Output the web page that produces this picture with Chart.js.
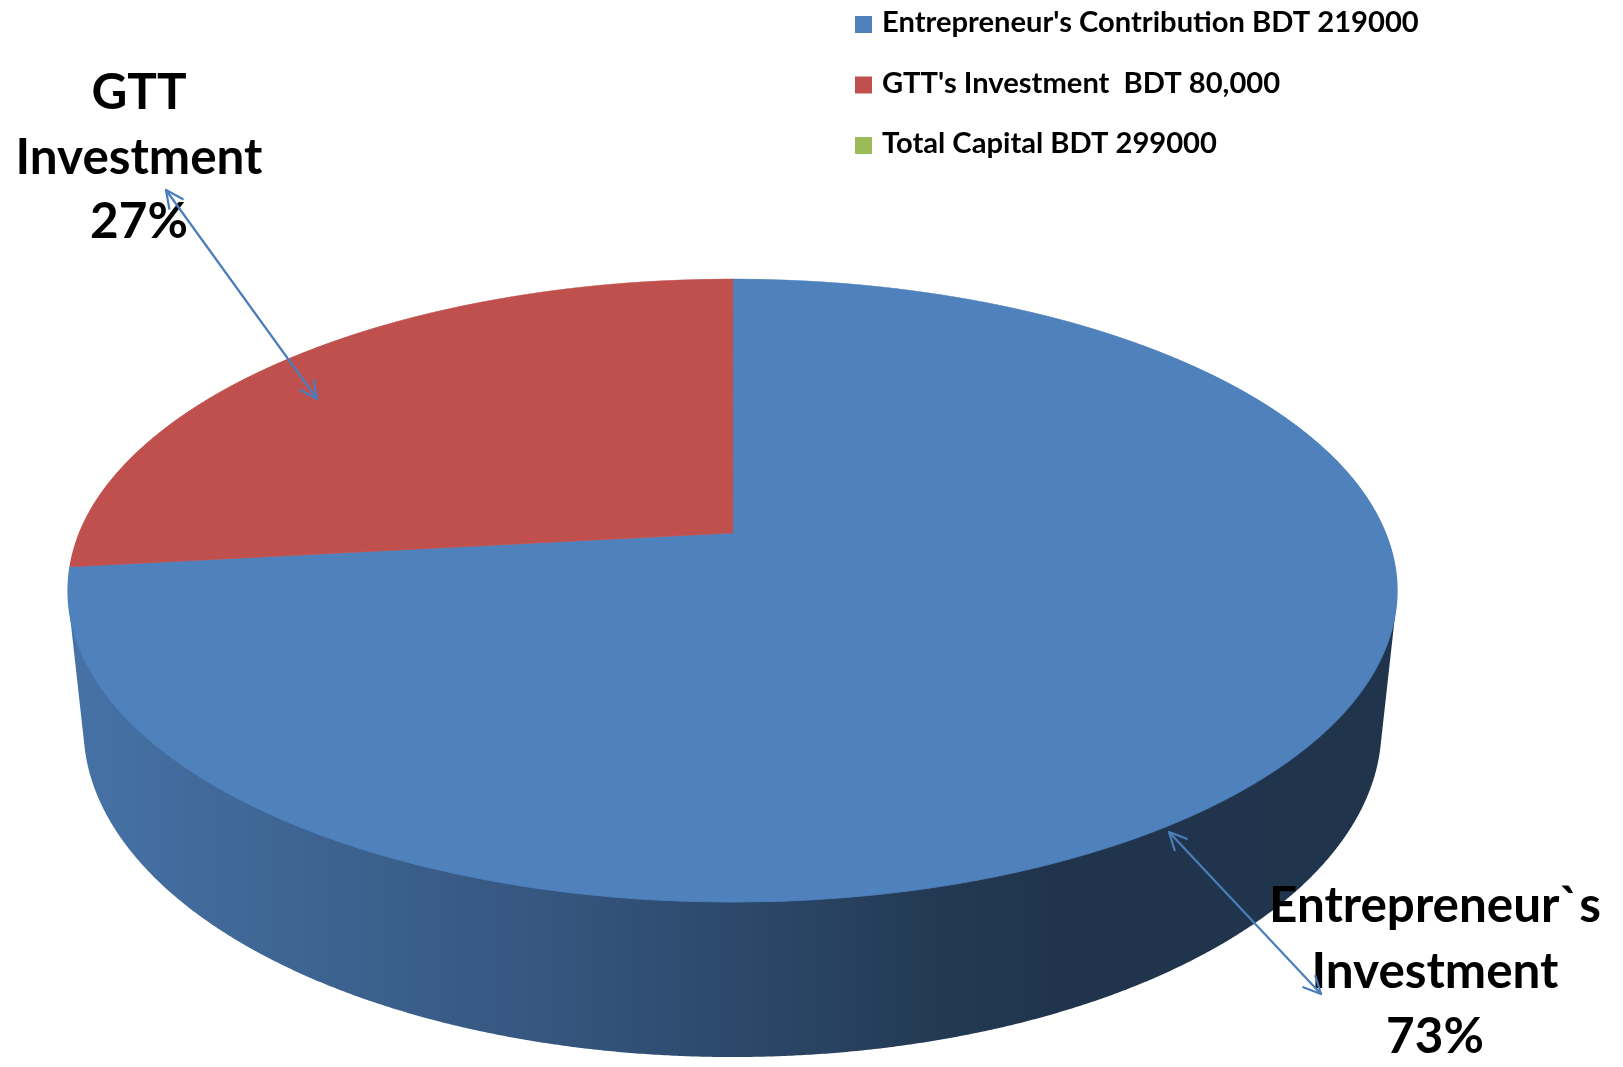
<!DOCTYPE html>
<html>
<head>
<meta charset="utf-8">
<script src="https://cdn.jsdelivr.net/npm/chart.js@4.4.0/dist/chart.umd.min.js"></script>
<style>
html,body{margin:0;padding:0;background:#ffffff;}
#wrap{width:1623px;height:1067px;position:relative;}
</style>
</head>
<body>
<div id="wrap"><canvas id="c" width="1623" height="1067"></canvas></div>
<script>
// ---------------- data ----------------
const categories = ["Entrepreneur's Contribution BDT 219000", "GTT's Investment  BDT 80,000", "Total Capital BDT 299000"];
const values = [219000, 80000, 0];
const sliceColors = ['#4f81bd', '#c0504d', '#9bbb59'];
const calloutLines = [["Entrepreneur`s", "Investment"], ["GTT", "Investment"], []];

// ---------------- styling / view ----------------
const VIEW = {cx: 732.5, cy: 533, S: 653, sinA: 0.4608, cosA: 0.8875, k: 0.208, depth: 0.2388};
const WALL_SHADE = [[0, 0.88], [0.17, 0.78], [0.36, 0.67], [0.52, 0.55], [0.66, 0.44], [0.74, 0.41], [1, 0.40]];
const FONT_FAMILY = 'Lato, "Open Sans", "DejaVu Sans", sans-serif';
const LEGEND_STYLE = {boxX: 855, box: 17, textX: 882, baseline: 32, step: 60.5, targetWidth: 537};
const CALLOUT_POS = [{x: 1435, y: 922, lh: 65.5}, {x: 139, y: 109, lh: 64.5}];
const CALLOUT_TARGET = 247;
const ARROWS = [[1169, 832, 1321, 994], [166, 190, 317, 399]];
const ARROW_COLOR = '#4a7ebb';

function proj(u, v, t) {
  const w = 1 - VIEW.k * VIEW.cosA * v + VIEW.k * VIEW.sinA * t;
  return {x: VIEW.cx + VIEW.S * u / w, y: VIEW.cy + VIEW.S * (VIEW.sinA * v + VIEW.cosA * t) / w};
}
function shade(hex, f) {
  const n = parseInt(hex.slice(1), 16);
  const r = Math.round(((n >> 16) & 255) * f), g = Math.round(((n >> 8) & 255) * f), b = Math.round((n & 255) * f);
  return `rgb(${r},${g},${b})`;
}
function fitFont(ctx, text, target) {
  ctx.font = `bold 100px ${FONT_FAMILY}`;
  return 100 * target / ctx.measureText(text).width;
}

const pie3d = {
  id: 'pie3d',
  beforeDatasetsDraw(chart) {
    const ctx = chart.ctx;
    const arcs = chart.getDatasetMeta(0).data;
    const ref = arcs[0];
    const ax = ref.x, ay = ref.y, Rl = ref.outerRadius;

    // side wall (visible front part of each slice)
    const phi1 = Math.asin(VIEW.k / VIEW.cosA), phi2 = Math.PI - phi1;
    const gx0 = proj(-Math.cos(phi1), Math.sin(phi1), 0).x, gx1 = proj(Math.cos(phi1), Math.sin(phi1), 0).x;
    arcs.forEach((arc, i) => {
      if (!(arc.circumference > 0)) return;
      for (const shift of [-2 * Math.PI, 0, 2 * Math.PI]) {
        const lo = Math.max(arc.startAngle, phi1 + shift), hi = Math.min(arc.endAngle, phi2 + shift);
        if (hi <= lo) continue;
        const grad = ctx.createLinearGradient(gx0, 0, gx1, 0);
        WALL_SHADE.forEach(([p, f]) => grad.addColorStop(p, shade(sliceColors[i], f)));
        const n = Math.max(2, Math.ceil((hi - lo) / 0.004));
        ctx.save();
        ctx.beginPath();
        for (let j = 0; j <= n; j++) {
          const a = lo + (hi - lo) * j / n;
          const p = proj(Math.cos(a), Math.sin(a), -0.004);
          if (j === 0) ctx.moveTo(p.x, p.y); else ctx.lineTo(p.x, p.y);
        }
        for (let j = n; j >= 0; j--) {
          const a = lo + (hi - lo) * j / n;
          const p = proj(Math.cos(a), Math.sin(a), VIEW.depth);
          ctx.lineTo(p.x, p.y);
        }
        ctx.closePath();
        ctx.fillStyle = grad;
        ctx.fill();
        ctx.restore();
      }
    });

    // top face: library arcs re-projected row by row
    const A = VIEW.S * VIEW.sinA, c = -VIEW.k * VIEW.cosA;
    const yTop = proj(0, -1, 0).y, yBot = proj(0, 1, 0).y;
    for (let yd = Math.floor(yTop) - 1; yd <= Math.ceil(yBot) + 1; yd++) {
      const yc = yd + 0.5, dy = yc - VIEW.cy;
      const v = dy / (A - c * dy);
      if (v < -1.05 || v > 1.05) continue;
      const w = 1 + c * v;
      const sx = VIEW.S / (w * Rl), sy = A / (w * w * Rl);
      ctx.save();
      ctx.beginPath();
      ctx.rect(0, yd, chart.width, 1);
      ctx.clip();
      ctx.translate(VIEW.cx, yc);
      ctx.scale(sx, sy);
      ctx.translate(-ax, -(ay + Rl * v));
      arcs.forEach(a => a.draw(ctx));
      ctx.restore();
    }
    return false;
  },
  afterDraw(chart) {
    const ctx = chart.ctx;
    const total = values.reduce((s, x) => s + x, 0);
    ctx.save();
    // legend
    const lf = fitFont(ctx, categories[0], LEGEND_STYLE.targetWidth);
    ctx.font = `bold ${lf}px ${FONT_FAMILY}`;
    ctx.textBaseline = 'alphabetic';
    ctx.textAlign = 'left';
    categories.forEach((lab, i) => {
      const by = LEGEND_STYLE.baseline + i * LEGEND_STYLE.step;
      ctx.fillStyle = sliceColors[i];
      ctx.fillRect(LEGEND_STYLE.boxX, by - LEGEND_STYLE.box + 1, LEGEND_STYLE.box, LEGEND_STYLE.box);
      ctx.fillStyle = '#000';
      ctx.fillText(lab, LEGEND_STYLE.textX, by);
    });
    // callouts
    const cf = fitFont(ctx, 'Investment', CALLOUT_TARGET);
    ctx.font = `bold ${cf}px ${FONT_FAMILY}`;
    ctx.textAlign = 'center';
    ctx.fillStyle = '#000';
    CALLOUT_POS.forEach((pos, i) => {
      const lines = calloutLines[i].concat([Math.round(values[i] / total * 100) + '%']);
      lines.forEach((t, j) => ctx.fillText(t, pos.x, pos.y + j * pos.lh));
    });
    // arrows
    ctx.strokeStyle = ARROW_COLOR;
    ctx.lineWidth = 2.2;
    ctx.lineCap = 'round';
    ctx.lineJoin = 'round';
    const head = (x, y, ang) => {
      const L = 19, sp = 0.45;
      ctx.beginPath();
      ctx.moveTo(x + L * Math.cos(ang + sp), y + L * Math.sin(ang + sp));
      ctx.lineTo(x, y);
      ctx.lineTo(x + L * Math.cos(ang - sp), y + L * Math.sin(ang - sp));
      ctx.stroke();
    };
    ARROWS.forEach(([x1, y1, x2, y2]) => {
      ctx.beginPath(); ctx.moveTo(x1, y1); ctx.lineTo(x2, y2); ctx.stroke();
      const a = Math.atan2(y2 - y1, x2 - x1);
      head(x1, y1, a);
      head(x2, y2, a + Math.PI);
    });
    ctx.restore();
  }
};

new Chart(document.getElementById('c'), {
  type: 'pie',
  data: {
    labels: categories,
    datasets: [{data: values, backgroundColor: sliceColors, borderColor: sliceColors, borderWidth: 1}]
  },
  options: {
    responsive: false,
    animation: false,
    devicePixelRatio: 1,
    events: [],
    plugins: {legend: {display: false}, tooltip: {enabled: false}}
  },
  plugins: [pie3d]
});
</script>
</body>
</html>
